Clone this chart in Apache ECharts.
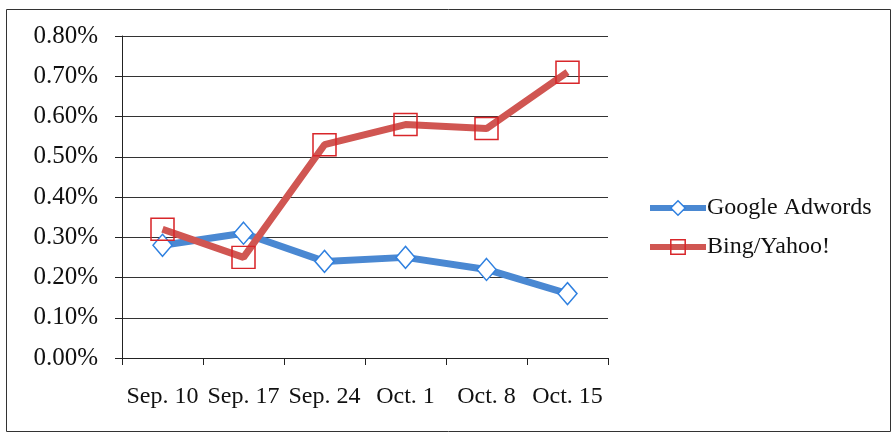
<!DOCTYPE html>
<html><head><meta charset="utf-8">
<script src="https://cdn.jsdelivr.net/npm/echarts@6/dist/echarts.min.js"></script>
<style>html,body{margin:0;padding:0;background:#fff}#c{width:892px;height:433px}</style>
</head><body><div id="c"></div>
<script>
const categories = ['Sep. 10', 'Sep. 17', 'Sep. 24', 'Oct. 1', 'Oct. 8', 'Oct. 15'];
const googleAdwords = [0.28, 0.31, 0.24, 0.25, 0.22, 0.16];
const bingYahoo = [0.32, 0.25, 0.53, 0.58, 0.57, 0.71];
const seriesNames = ['Google Adwords', 'Bing/Yahoo!'];

const font = 'Liberation Serif';
const chart = echarts.init(document.getElementById('c'));
chart.setOption({
  animation: false,
  backgroundColor: '#fff',
  graphic: [{
    type: 'rect', left: 4, top: 7, shape: { width: 884, height: 422 },
    style: { fill: 'none', stroke: '#333', lineWidth: 1 }, silent: true
  }],
  grid: { left: 122, right: 284, top: 36, bottom: 75 },
  legend: {
    orient: 'vertical', left: 642, top: 191, itemGap: 15,
    itemWidth: 56, itemHeight: 18, itemStyle: { borderWidth: 1.5 },
    lineStyle: { width: 6 },
    textStyle: { fontFamily: font, fontSize: 24, color: '#111', padding: [0, 0, 0, -4] },
    data: seriesNames
  },
  xAxis: {
    type: 'category', data: categories, boundaryGap: true,
    axisLine: { lineStyle: { color: '#222', width: 1 } },
    axisTick: { show: true, length: 7, inside: false, interval: 0, lineStyle: { color: '#222' } },
    axisLabel: { fontFamily: font, fontSize: 24, color: '#111', margin: 27, interval: 0, hideOverlap: false }
  },
  yAxis: {
    type: 'value', min: 0, max: 0.8, interval: 0.1,
    axisLine: { show: true, lineStyle: { color: '#222', width: 1 } },
    axisTick: { show: true, length: 7, lineStyle: { color: '#222' } },
    splitLine: { lineStyle: { color: '#333', width: 1 } },
    axisLabel: { fontFamily: font, fontSize: 25, color: '#111', margin: 24,
      formatter: v => v.toFixed(2) + '%' }
  },
  series: [{
    name: seriesNames[0], type: 'line', data: googleAdwords,
    symbol: 'diamond', symbolSize: [19, 22], showAllSymbol: true,
    lineStyle: { color: '#4a88d2', width: 7 },
    itemStyle: { color: '#fff', borderColor: '#2f80e0', borderWidth: 1.5 },
    z: 2
  }, {
    name: seriesNames[1], type: 'line', data: bingYahoo,
    symbol: 'rect', symbolSize: [23, 22], showAllSymbol: true,
    lineStyle: { color: '#d05652', width: 7 },
    itemStyle: { color: 'rgba(255,255,255,0)', borderColor: '#d8262a', borderWidth: 1.5 },
    z: 3
  }]
});
</script></body></html>
